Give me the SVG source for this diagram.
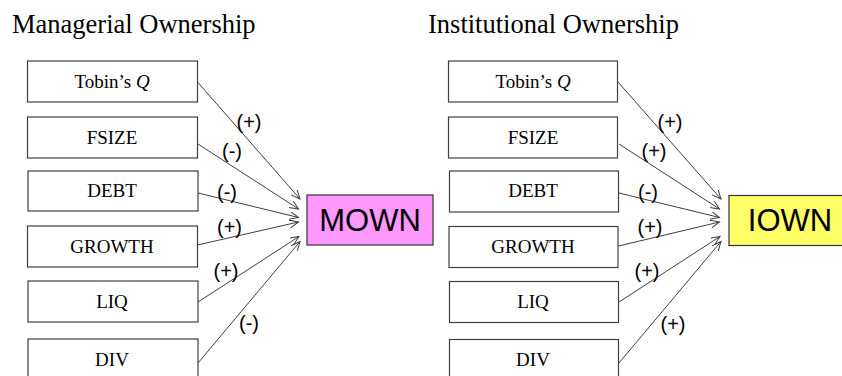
<svg xmlns="http://www.w3.org/2000/svg" width="842" height="376" viewBox="0 0 842 376">
<style>
.title{font-family:"Liberation Serif","Times New Roman",serif;font-size:26.5px;fill:#000}
.box{fill:#fff;stroke:#404040;stroke-width:1.2}
.bt{font-family:"Liberation Serif","Times New Roman",serif;font-size:19px;fill:#000;text-anchor:middle}
.lbl{font-family:"Liberation Sans",Arial,sans-serif;font-size:20px;fill:#000;text-anchor:middle}
.big{font-family:"Liberation Sans",Arial,sans-serif;font-size:31px;fill:#000;text-anchor:middle}
.con line{stroke:#404040;stroke-width:1;marker-end:url(#arr)}
</style>
<defs>
<marker id="arr" markerUnits="userSpaceOnUse" markerWidth="12" markerHeight="10" refX="9" refY="4" orient="auto">
<path d="M0,0 L9,4 L0,8" fill="none" stroke="#404040" stroke-width="1"/>
</marker>
</defs>
<text class="title" x="12" y="33">Managerial Ownership</text>
<text class="title" x="428" y="33">Institutional Ownership</text>

<g id="L_tobin"><rect class="box" x="27.5" y="61" width="170" height="41"/><text class="bt" x="112" y="88">Tobin’s <tspan font-style="italic">Q</tspan></text></g>
<g id="L_fsize"><rect class="box" x="27.5" y="117" width="170" height="41"/><text class="bt" x="112" y="144">FSIZE</text></g>
<g id="L_debt"><rect class="box" x="28" y="171" width="170" height="40"/><text class="bt" x="112" y="197">DEBT</text></g>
<g id="L_growth"><rect class="box" x="27.5" y="226" width="170" height="41"/><text class="bt" x="112" y="253">GROWTH</text></g>
<g id="L_liq"><rect class="box" x="28" y="281" width="170" height="41"/><text class="bt" x="112" y="308">LIQ</text></g>
<g id="L_div"><rect class="box" x="28" y="339" width="170" height="41"/><text class="bt" x="112" y="366">DIV</text></g>
<g id="MOWN"><rect x="307" y="195" width="126" height="50" fill="#FF99FF" stroke="#333" stroke-width="1.2"/><text class="big" x="370" y="230.5">MOWN</text></g>

<g id="R_tobin"><rect class="box" x="448.5" y="61" width="169" height="41"/><text class="bt" x="533" y="88">Tobin’s <tspan font-style="italic">Q</tspan></text></g>
<g id="R_fsize"><rect class="box" x="448.5" y="117" width="169" height="41"/><text class="bt" x="533" y="144">FSIZE</text></g>
<g id="R_debt"><rect class="box" x="449.5" y="171" width="169" height="41"/><text class="bt" x="533" y="197">DEBT</text></g>
<g id="R_growth"><rect class="box" x="449" y="226.5" width="169" height="41"/><text class="bt" x="533" y="253">GROWTH</text></g>
<g id="R_liq"><rect class="box" x="449.5" y="281.5" width="169" height="41"/><text class="bt" x="533" y="308">LIQ</text></g>
<g id="R_div"><rect class="box" x="449.5" y="339.5" width="169" height="41"/><text class="bt" x="533" y="366">DIV</text></g>
<g id="IOWN"><rect x="729" y="195.5" width="130" height="50" fill="#FFFF66" stroke="#333" stroke-width="1.2"/><text class="big" x="790" y="230.5">IOWN</text></g>

<g class="con" id="connectors">
<line x1="197.5" y1="82" x2="300" y2="199"/>
<line x1="198" y1="144" x2="298.5" y2="209"/>
<line x1="198" y1="193" x2="298.5" y2="217.5"/>
<line x1="197.5" y1="245" x2="298.5" y2="222"/>
<line x1="198" y1="302" x2="299" y2="236.5"/>
<line x1="198" y1="363" x2="300" y2="241.5"/>
<line x1="618" y1="82" x2="721" y2="199"/>
<line x1="619" y1="144" x2="719.5" y2="209"/>
<line x1="619" y1="193" x2="719.5" y2="217.5"/>
<line x1="618.5" y1="246" x2="719.5" y2="222"/>
<line x1="619" y1="302" x2="720" y2="236.5"/>
<line x1="619" y1="363" x2="721" y2="241.5"/>
</g>
<g id="labels">
<text class="lbl" x="249" y="128.5">(+)</text>
<text class="lbl" x="232" y="157.5">(-)</text>
<text class="lbl" x="227" y="198.5">(-)</text>
<text class="lbl" x="229.5" y="233.5">(+)</text>
<text class="lbl" x="226" y="277.5">(+)</text>
<text class="lbl" x="249" y="329.5">(-)</text>
<text class="lbl" x="670" y="128.5">(+)</text>
<text class="lbl" x="654" y="157.5">(+)</text>
<text class="lbl" x="648" y="198.5">(-)</text>
<text class="lbl" x="650" y="233.5">(+)</text>
<text class="lbl" x="647" y="277.5">(+)</text>
<text class="lbl" x="673" y="330.5">(+)</text>
</g>
</svg>
